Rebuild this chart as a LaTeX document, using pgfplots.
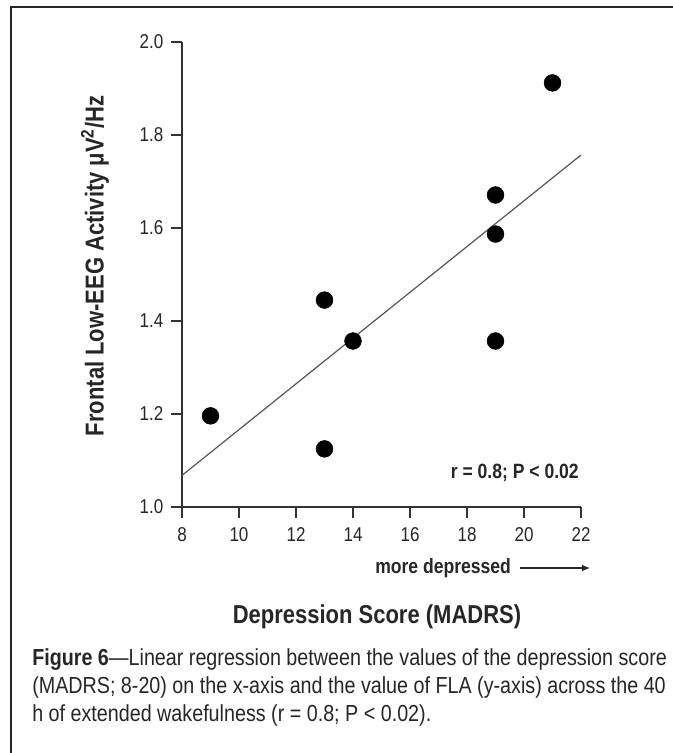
\documentclass[border=0pt]{standalone}
\usepackage{fontspec}
\setmainfont{Liberation Sans}[FakeStretch=0.85]
\usepackage{pgfplots}
\pgfplotsset{compat=1.18}
\usetikzlibrary{arrows.meta}

\definecolor{axisgray}{HTML}{333333}
\definecolor{fitgray}{HTML}{555555}

\begin{document}
\begin{tikzpicture}
\useasboundingbox (0pt,0pt) rectangle (504pt,-564.75pt);
% frame (only left and top edges visible)
\draw[line width=1.3pt, black!85] (8.25pt,-570pt) -- (8.25pt,-5.25pt) -- (510pt,-5.25pt);

\begin{axis}[
  at={(136.5pt,-380.25pt)}, anchor=south west,
  scale only axis,
  width=299.25pt, height=348.75pt,
  xmin=8, xmax=22, ymin=1.0, ymax=2.0,
  xtick={8,10,...,22},
  ytick={1.0,1.2,...,2.0},
  yticklabel style={xshift=-2.5pt, /pgf/number format/fixed, /pgf/number format/fixed zerofill, /pgf/number format/precision=1},
  axis x line*=bottom, axis y line*=left,
  axis line style={line width=1.3pt, axisgray},
  every tick/.style={line width=1.3pt, axisgray},
  tick align=outside, major tick length=8pt,
  ticklabel style={font=\fontsize{15}{18}\selectfont, text=black!85},
  xticklabel style={yshift=-4pt},
  /pgf/number format/assume math mode=true,
  clip=false,
]
\addplot[fitgray, line width=0.9pt] coordinates {(8,1.068) (22,1.757)};
\addplot[only marks, mark=*, mark size=6.3pt, black] coordinates {
  (9,1.196) (13,1.125) (13,1.445) (14,1.357)
  (19,1.357) (19,1.587) (19,1.671) (21,1.912)
};
\end{axis}

\node[rotate=90, font=\bfseries\fontsize{19.4}{22}\selectfont, text=black!85]
  at (71.25pt,-199.5pt) {Frontal Low-EEG Activity μV\textsuperscript{2}/Hz};
\node[anchor=base east, inner sep=0pt, font=\bfseries\fontsize{15.5}{18}\selectfont, text=black!85]
  at (434.25pt,-358.5pt) {r = 0.8; P < 0.02};
\node[anchor=base west, inner sep=0pt, font=\bfseries\fontsize{15.5}{18}\selectfont, text=black!85]
  at (281.25pt,-429.75pt) {more depressed};
\draw[-{Latex[length=6pt,width=5pt]}, line width=0.8pt, black!85] (390pt,-426pt) -- (442.5pt,-426pt);
\node[anchor=base, inner sep=0pt, font=\bfseries\fontsize{19.4}{22}\selectfont, text=black!85]
  at (282.75pt,-467.25pt) {Depression Score (MADRS)};
% caption, one node per line
\begin{scope}[every node/.style={anchor=base west, inner sep=0pt, font=\fontsize{17.4}{21}\selectfont, text=black!85}]
\node at (24pt,-498.75pt) {\textbf{Figure 6}---Linear regression between the values of the depression score};
\node at (24pt,-519.75pt) {(MADRS; 8-20) on the x-axis and the value of FLA (y-axis) across the 40};
\node at (24pt,-540.75pt) {h of extended wakefulness (r = 0.8; P < 0.02).};
\end{scope}
\end{tikzpicture}
\end{document}
